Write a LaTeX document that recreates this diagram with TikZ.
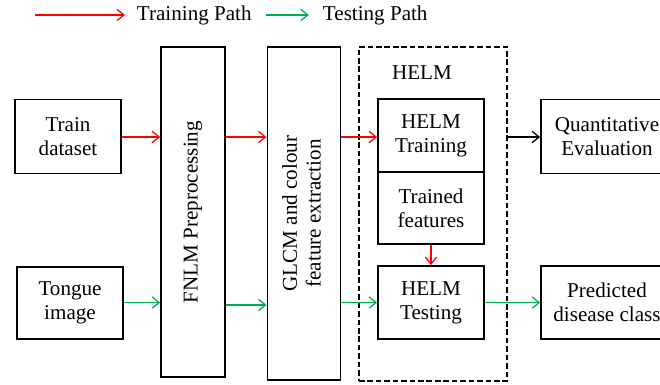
\documentclass[tikz,border=0pt]{standalone}
\usepackage{fontspec}
\setmainfont{Liberation Serif}
\newfontfamily\diagfont{Liberation Serif}
\usepackage{graphicx}
\usetikzlibrary{arrows.meta}
\definecolor{trainred}{RGB}{255,0,0}
\definecolor{testgreen}{RGB}{0,176,80}
\tikzstyle{block} = [rectangle, minimum width=2.65cm, minimum height=1.85cm, text centered, align=center, draw=black, line width=1.2pt]
\tikzstyle{tallblock} = [rectangle, minimum height=8.3cm, text centered, align=center, draw=black, line width=1.2pt]
\tikzstyle{group} = [rectangle, minimum width=3.7cm, minimum height=8.35cm, draw=black, dash pattern=on 4pt off 2pt, line width=1.1pt]
\tikzstyle{arrow} = [line width=0.9pt, -{Straight Barb[length=5pt, width=8pt]}]
\tikzstyle{trainarrow} = [arrow, trainred]
\tikzstyle{testarrow} = [arrow, testgreen]

\begin{document}
\begin{tikzpicture}[node distance=4.15cm, font=\diagfont\fontsize{15}{17}\selectfont]
\useasboundingbox (0,0) rectangle (16.5,9.625);

% legend
\coordinate (redA) at (0.875,9.25);
\coordinate (redB) at (3.125,9.25);
\node (redtxt) [anchor=west] at (3.3,9.25) {Training Path};
\coordinate (greenA) at (6.65,9.25);
\coordinate (greenB) at (7.72,9.25);
\node (greentxt) [anchor=west] at (7.95,9.25) {Testing Path};
\draw [trainarrow] (redA) -- (redB);
\draw [testarrow] (greenA) -- (greenB);

% inputs
\node (train) [block] at (1.7,6.21) {Train\\dataset};
\node (tongue) [block, below of=train, xshift=0.05cm, yshift=-0.01cm, minimum height=1.8cm] {Tongue\\image};

% preprocessing and features
\node (fnlm) [tallblock, minimum width=1.6cm, minimum height=8.25cm] at (4.825,4.325) {\rotatebox{90}{FNLM Preprocessing}};
\node (glcm) [tallblock, minimum width=1.83cm, minimum height=8.33cm] at (7.6,4.29) {\rotatebox{90}{\begin{tabular}{c}GLCM and colour\\feature extraction\end{tabular}}};

% HELM
\node (helm) [group] at (10.825,4.275) {};
\node (helmtxt) at (10.55,7.8) {HELM};
\node (helmtrain) [block, minimum height=1.825cm] at (10.775,6.2375) {HELM\\Training};
\node (trained) [block, minimum height=1.8cm] at (10.775,4.425) {Trained\\features};
\node (helmtest) [block, minimum height=1.825cm] at (10.775,2.0625) {HELM\\Testing};

% outputs
\node (quant) [block, minimum width=3.3cm] at (15.175,6.21) {Quantitative\\Evaluation};
\node (pred) [block, minimum width=3.3cm, minimum height=1.825cm] at (15.175,2.0625) {Predicted\\disease class};

\draw [trainarrow] (train.east |- 0,6.2) -- (fnlm.west |- 0,6.2);
\draw [testarrow] (tongue.east |- 0,2.06) -- (fnlm.west |- 0,2.06);
\draw [trainarrow] (fnlm.east |- 0,6.2) -- (glcm.west |- 0,6.2);
\draw [testarrow] (fnlm.east |- 0,2.0) -- (glcm.west |- 0,2.0);
\draw [trainarrow] (glcm.east |- 0,6.2) -- (helmtrain.west |- 0,6.2);
\draw [testarrow] (glcm.east |- 0,2.06) -- (helmtest.west |- 0,2.06);
\draw [trainarrow] (trained) -- (helmtest);
\draw [arrow] (helm.east |- 0,6.2) -- (quant.west |- 0,6.2);
\draw [testarrow] (helmtest.east |- 0,2.06) -- (pred.west |- 0,2.06);

\end{tikzpicture}
\end{document}
